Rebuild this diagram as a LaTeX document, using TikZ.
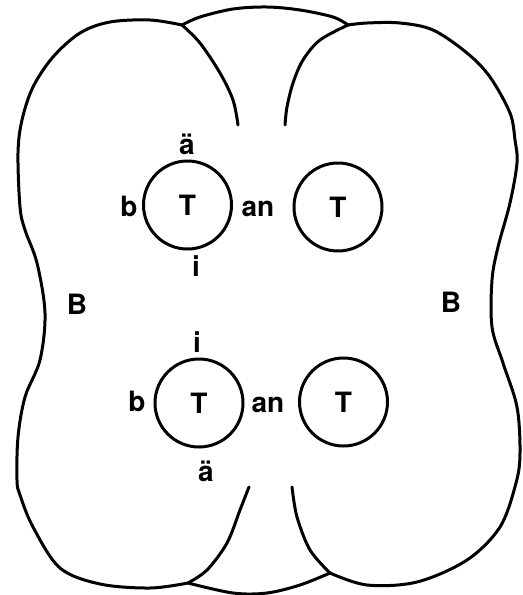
\documentclass[tikz,border=0pt]{standalone}
\usepackage{fontspec}
\setmainfont{TeX Gyre Heros}
\begin{document}
\begin{tikzpicture}[x=0.5pt,y=-0.5pt,line width=1.5pt,line cap=round,line join=round,
  txt/.style={inner sep=0pt,font=\bfseries\fontsize{14}{16}\selectfont},
  cell/.style={txt,circle,draw,minimum size=44pt},
  outline/.style={smooth,tension=0.55}]
\useasboundingbox (0,0) rectangle (523,595);
% outline
\draw plot[outline] coordinates {(182,25) (150,20) (110,22) (80,33) (53,57) (33,87) (22,120) (18,153) (20,207) (25,230) (37,263) (45,313) (40,360) (25,397) (18,437) (17,480) (20,495) (33,527) (60,568) (100,584) (150,588) (188,583)};
\draw plot[outline] coordinates {(182,25) (200,17) (233,9) (267,7) (300,10) (333,17) (348,25)};
\draw plot[outline] coordinates {(182,25) (200,43) (220,73) (233,100) (238,125)};
\draw plot[outline] coordinates {(348,25) (320,40) (303,60) (293,83) (287,107) (285,125)};
\draw plot[outline] coordinates {(348,25) (367,23) (400,23) (433,30) (467,53) (490,77) (510,113) (515,140) (517,163) (510,203) (498,247) (492,280) (492,327) (503,363) (517,407) (520,453) (516,483) (500,527) (467,560) (417,582) (367,585) (330,573)};
\draw plot[outline] coordinates {(188,583) (233,593) (267,593) (300,585) (330,573)};
\draw plot[outline] coordinates {(249,487) (240,510) (227,543) (207,570) (188,583)};
\draw plot[outline] coordinates {(292,487) (297,517) (310,550) (330,573)};
% cells
\node[cell] (ul) at (187.5,205) {T};
\node[cell] (ur) at (338,207) {T};
\node[cell] (ll) at (199,403) {T};
\node[cell] (lr) at (343.5,402) {T};
% labels
\node[txt] (ula) at (187,144) {ä};
\node[txt] (ulb) at (129,206) {b};
\node[txt] (ulan) at (258,209) {an};
\node[txt] (uli) at (196,266) {i};
\node[txt] (lli) at (197,342) {i};
\node[txt] (llb) at (137,401) {b};
\node[txt] (llan) at (268,405) {an};
\node[txt] (lla) at (206,471) {ä};
\node[txt] (bl) at (77,304) {B};
\node[txt] (br) at (451,302) {B};
\end{tikzpicture}
\end{document}
